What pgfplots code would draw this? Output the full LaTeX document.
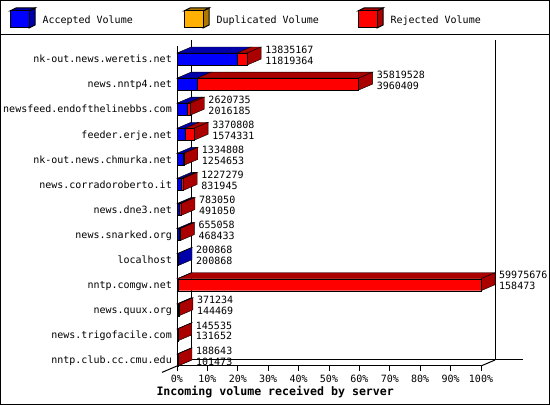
\documentclass[border=0pt]{standalone}
\usepackage{pgfplots}
\pgfplotsset{compat=1.18}
\usepackage{pgfplotstable}
\usepackage{fontspec}
\newfontfamily\chartfont{DejaVu Sans Mono}
\newcommand\cf{\chartfont\fontsize{10bp}{12bp}\selectfont}
\newcommand\cfb{\chartfont\bfseries\fontsize{11.6bp}{13bp}\selectfont}

\definecolor{accblue}{HTML}{0000FF}
\definecolor{accdark}{HTML}{0000AA}
\definecolor{dupcol}{HTML}{FFB000}
\definecolor{dupdark}{HTML}{B07800}
\definecolor{rejred}{HTML}{FF0000}
\definecolor{rejdark}{HTML}{AA0000}

% total volume and accepted volume per server
\pgfplotstableread{
name tot acc
nk-out.news.weretis.net 13835167 11819364
news.nntp4.net 35819528 3960409
newsfeed.endofthelinebbs.com 2620735 2016185
feeder.erje.net 3370808 1574331
nk-out.news.chmurka.net 1334808 1254653
news.corradoroberto.it 1227279 831945
news.dne3.net 783050 491050
news.snarked.org 655058 468433
localhost 200868 200868
nntp.comgw.net 59975676 158473
news.quux.org 371234 144469
news.trigofacile.com 145535 131652
nntp.club.cc.cmu.edu 188643 101473
}\servers

% bar depth: 14px along x (4.605%), 6px up (0.2392 of a row)
\newcommand\getbar[1]{%
  \begingroup
  \pgfkeys{/pgf/fpu=true,/pgf/fpu/output format=fixed}%
  \pgfplotstablegetelem{#1}{tot}\of\servers
  \pgfmathparse{\pgfplotsretval/599756.76}\xdef\barT{\pgfmathresult}%
  \pgfmathparse{\pgfplotsretval/599756.76+4.605}\xdef\barTd{\pgfmathresult}%
  \pgfplotstablegetelem{#1}{acc}\of\servers
  \pgfmathparse{\pgfplotsretval/599756.76}\xdef\barA{\pgfmathresult}%
  \pgfmathparse{\pgfplotsretval/599756.76+4.605}\xdef\barAd{\pgfmathresult}%
  \pgfmathparse{-#1+0.2392}\xdef\barYt{\pgfmathresult}%
  \pgfmathparse{-#1+0.4784}\xdef\barYu{\pgfmathresult}%
  \pgfmathparse{-#1-0.2392}\xdef\barYb{\pgfmathresult}%
  \pgfmathparse{-#1}\xdef\barYc{\pgfmathresult}%
  \endgroup}

\newcommand\legcube[3]{%
  \filldraw[fill=#3] (#1+19,11) -- (#1+25,8) -- (#1+25,25) -- (#1+19,28) -- cycle;
  \filldraw[fill=#3] (#1,11) -- (#1+6,8) -- (#1+25,8) -- (#1+19,11) -- cycle;
  \filldraw[fill=#2] (#1,11) rectangle (#1+19,28);}

\begin{document}
\begin{tikzpicture}[line width=1bp]
\useasboundingbox (0,0) rectangle (550bp,405bp);

\begin{scope}[x=1bp,y=-1bp,yshift=405bp]
  \draw (0.5,0.5) rectangle (549.5,404.5);
  \draw (0,35) -- (550,35);
  \legcube{10}{accblue}{accdark}
  \legcube{184}{dupcol}{dupdark}
  \legcube{358}{rejred}{rejdark}
  \node[anchor=base west,inner sep=0pt,font=\cf] at (42,24) {Accepted Volume};
  \node[anchor=base west,inner sep=0pt,font=\cf] at (216,24) {Duplicated Volume};
  \node[anchor=base west,inner sep=0pt,font=\cf] at (390,24) {Rejected Volume};
  % back wall and floor of the box
  \draw (191,40) -- (191,360) -- (523,360);
  \draw (495,40) -- (495,360);
  \draw (162,372.4) -- (191,360);
  \draw (481,366) -- (495,360);
  \node[anchor=base west,inner sep=0pt,font=\cfb] at (156,396) {Incoming volume received by server};
\end{scope}

\begin{axis}[
    at={(177bp,39bp)}, anchor=south west,
    scale only axis, width=304bp, height=320bp,
    xmin=0, xmax=100, ymin=-12.24, ymax=0.52,
    clip=false,
    axis x line*=bottom, axis y line*=left,
    axis line style={line width=1bp},
    tick align=outside, major tick length=5bp,
    xtick={0,10,...,100},
    xticklabels={0\%,10\%,20\%,30\%,40\%,50\%,60\%,70\%,80\%,90\%,100\%},
    xticklabel style={anchor=north,inner sep=0pt,yshift=-4bp,font=\cf},
    ytick={0,-1,-2,-3,-4,-5,-6,-7,-8,-9,-10,-11,-12},
    yticklabels from table={\servers}{name},
    yticklabel style={anchor=base east,inner sep=0pt,xshift=0bp,yshift=-3.8bp,font=\cf},
    ytick style={draw=none},
    xtick style={line width=1bp,black},
  ]
  \pgfplotsinvokeforeach{0,...,12}{
    \getbar{#1}
    \ifdim\barA pt<\barT pt \def\sidecol{rejdark}\else\def\sidecol{accdark}\fi
    \edef\tmp{\noexpand\addplot[fill=accdark,draw=black] coordinates
      {(0,\barYt) (\barA,\barYt) (\barAd,\barYu) (4.605,\barYu)} --cycle;}\tmp
    \ifdim\barA pt<\barT pt
      \edef\tmp{\noexpand\addplot[fill=rejdark,draw=black] coordinates
        {(\barA,\barYt) (\barT,\barYt) (\barTd,\barYu) (\barAd,\barYu)} --cycle;}\tmp
    \fi
    \edef\tmp{\noexpand\addplot[fill=\sidecol,draw=black] coordinates
      {(\barT,\barYb) (\barT,\barYt) (\barTd,\barYu) (\barTd,\barYc)} --cycle;}\tmp
  }
  \addplot[xbar,bar width=12bp,bar shift=0pt,fill=rejred,draw=black]
    table[x expr=\thisrow{tot}/599756.76, y expr=-\coordindex]{\servers};
  \addplot[xbar,bar width=12bp,bar shift=0pt,fill=accblue,draw=black]
    table[x expr=\thisrow{acc}/599756.76, y expr=-\coordindex]{\servers};
  \addplot[draw=none,mark=none,nodes near coords,point meta=explicit symbolic,
    every node near coord/.append style={anchor=base west,inner sep=0pt,xshift=4bp,font=\cf}]
    table[x expr=\thisrow{tot}/599756.76+4.605, y expr=-\coordindex+0.235, meta=tot]{\servers};
  \addplot[draw=none,mark=none,nodes near coords,point meta=explicit symbolic,
    every node near coord/.append style={anchor=base west,inner sep=0pt,xshift=4bp,font=\cf}]
    table[x expr=\thisrow{tot}/599756.76+4.605, y expr=-\coordindex-0.203, meta=acc]{\servers};
\end{axis}
\end{tikzpicture}
\end{document}
